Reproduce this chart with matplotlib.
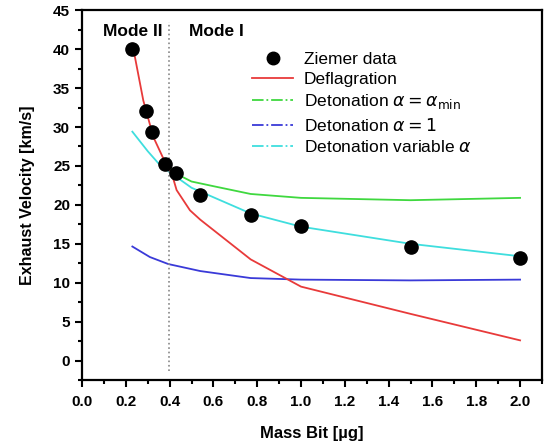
import numpy as np
import matplotlib
matplotlib.use("Agg")
import matplotlib.pyplot as plt
from matplotlib.lines import Line2D
from matplotlib.ticker import MultipleLocator

plt.rcParams['font.family'] = ['Liberation Sans', 'DejaVu Sans']
plt.rcParams['mathtext.fontset'] = 'dejavusans'

# datos
ziemer_x = [0.23, 0.29, 0.32, 0.38, 0.43, 0.54, 0.77, 1.0, 1.5, 2.0]
ziemer_y = [40.0, 32.0, 29.3, 25.3, 24.1, 21.3, 18.7, 17.35, 14.65, 13.2]

defl_x = [0.23, 0.28, 0.326, 0.379, 0.41, 0.432, 0.493, 0.54, 0.77, 1.0, 1.5, 2.0]
defl_y = [40.7, 33.4, 28.7, 25.5, 24.0, 21.9, 19.3, 18.1, 13.0, 9.5, 6.0, 2.6]

amin_x = [0.385, 0.43, 0.5, 0.6, 0.77, 1.0, 1.5, 2.0]
amin_y = [25.2, 24.0, 23.0, 22.4, 21.4, 20.9, 20.6, 20.9]

a1_x = [0.23, 0.31, 0.394, 0.54, 0.77, 1.0, 1.5, 2.0]
a1_y = [14.65, 13.3, 12.4, 11.5, 10.6, 10.4, 10.3, 10.4]

avar_x = [0.23, 0.3, 0.35, 0.4, 0.5, 0.77, 1.0, 1.5, 2.0]
avar_y = [29.4, 26.9, 25.3, 24.2, 22.2, 18.9, 17.2, 15.0, 13.4]

limite_modo = 0.395

c_defl = '#e83a3a'
c_amin = '#3fd83f'
c_a1 = '#3a3ad8'
c_avar = '#3fdede'

fig = plt.figure(figsize=(5.48, 4.44), dpi=100)
ax = fig.add_axes([0.1496, 0.144, 0.8394, 0.833])

ax.plot(amin_x, amin_y, color=c_amin, lw=1.3)
ax.plot(a1_x, a1_y, color=c_a1, lw=1.3)
ax.plot(avar_x, avar_y, color=c_avar, lw=1.3)
ax.plot(defl_x, defl_y, color=c_defl, lw=1.3)
ax.plot(ziemer_x, ziemer_y, 'o', color='black', ms=9.5, zorder=5)

# linea de separacion de modos
ax.plot([limite_modo, limite_modo], [-1.3, 43.5], ':', color='#888888', lw=1.2)
ax.text(0.23, 42.3, 'Mode II', ha='center', va='center', fontsize=12.5, fontweight='bold')
ax.text(0.49, 42.3, 'Mode I', ha='left', va='center', fontsize=12.5, fontweight='bold')

ax.set_xlim(0, 2.1)
ax.set_ylim(-2.5, 45)
ax.xaxis.set_minor_locator(MultipleLocator(0.1))
ax.yaxis.set_minor_locator(MultipleLocator(2.5))
ax.set_xticks(np.arange(0, 2.01, 0.2))
ax.set_xticklabels(['%.1f' % v for v in np.arange(0, 2.01, 0.2)])
ax.set_yticks(np.arange(0, 46, 5))

ax.tick_params(which='both', direction='out', width=1.5, labelsize=11)
ax.tick_params(axis='x', pad=6)
ax.tick_params(which='major', length=5)
ax.tick_params(which='minor', length=3)
for lab in ax.get_xticklabels() + ax.get_yticklabels():
    lab.set_fontweight('bold')
for s in ax.spines.values():
    s.set_linewidth(1.6)

ax.set_xlabel('Mass Bit [\u00b5g]', fontsize=12, fontweight='bold', labelpad=12)
ax.set_ylabel('Exhaust Velocity [km/s]', fontsize=11.5, fontweight='bold', labelpad=13)

handles = [
    Line2D([], [], ls='none', marker='o', color='black', ms=9),
    Line2D([], [], color=c_defl, lw=1.3),
    Line2D([], [], color=c_amin, lw=1.3, ls='-.'),
    Line2D([], [], color=c_a1, lw=1.3, ls='-.'),
    Line2D([], [], color=c_avar, lw=1.3, ls='-.'),
]
labels = ['Ziemer data', 'Deflagration', r'Detonation $\alpha = \alpha_{\rm min}$',
          r'Detonation $\alpha = 1$', r'Detonation variable $\alpha$']
ax.legend(handles, labels, loc='upper left', bbox_to_anchor=(0.335, 0.93), frameon=False,
          fontsize=12.5, handlelength=2.4, handletextpad=0.6, labelspacing=0.3)

fig.savefig('out.png', dpi=100)
